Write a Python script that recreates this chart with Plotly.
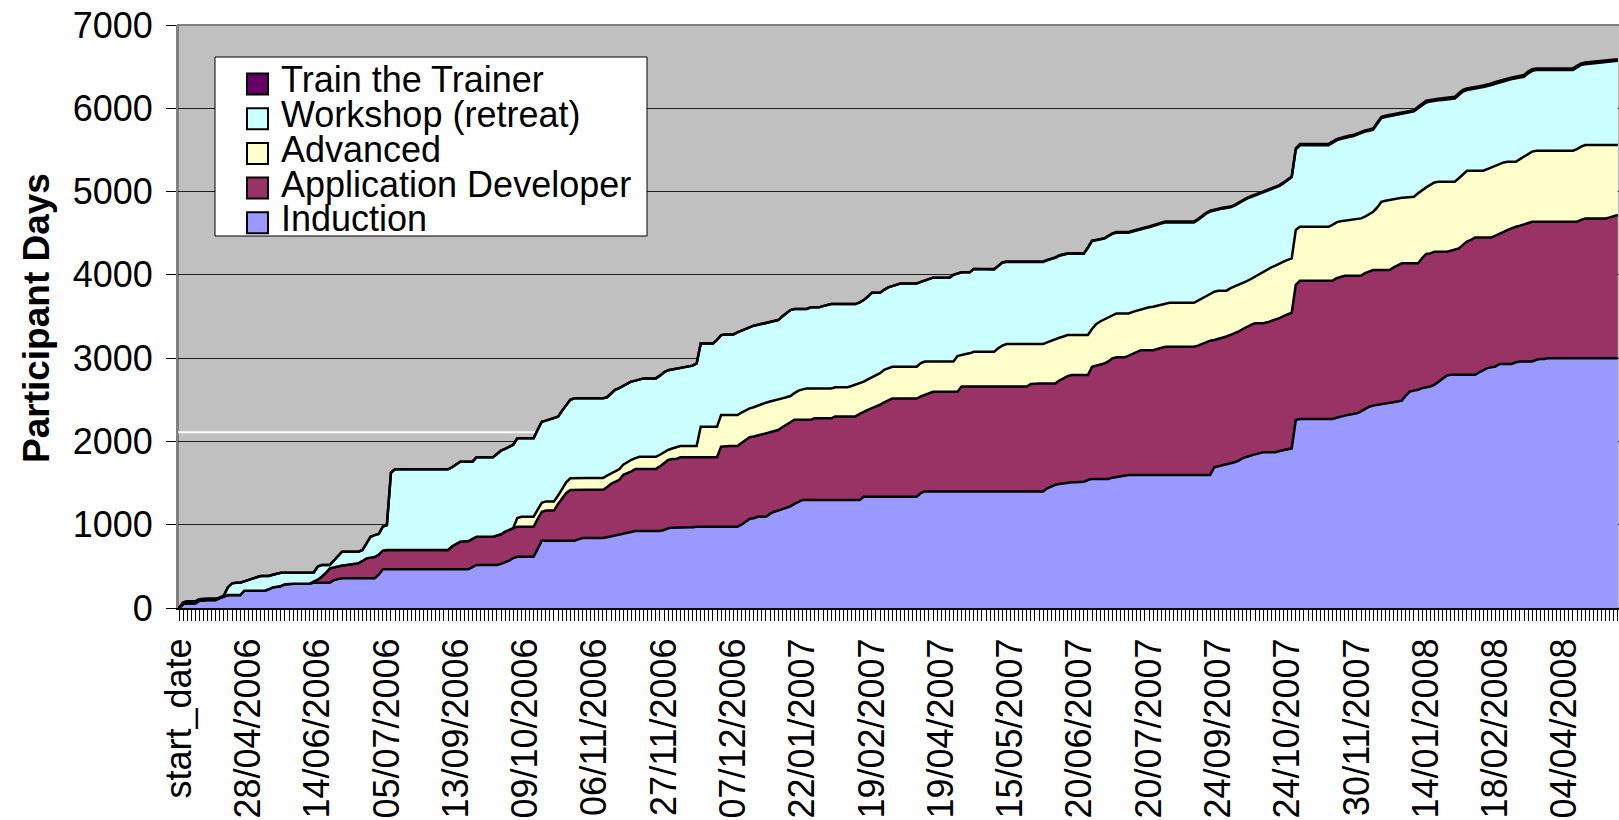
import plotly.graph_objects as go

# ---------------- data ----------------
x_labels = ["start_date", "28/04/2006", "14/06/2006", "05/07/2006", "13/09/2006",
            "09/10/2006", "06/11/2006", "27/11/2006", "07/12/2006", "22/01/2007",
            "19/02/2007", "19/04/2007", "15/05/2007", "20/06/2007", "20/07/2007",
            "24/09/2007", "24/10/2007", "30/11/2007", "14/01/2008", "18/02/2008",
            "04/04/2008"]
label_every = 17

induction = [
    0, 48, 56, 56, 56, 88, 96, 96, 96, 96,
    120, 140, 156, 156, 156, 156, 208, 208, 208, 208,
    208, 208, 225, 248, 256, 264, 285, 290, 290, 290,
    290, 290, 290, 304, 304, 304, 304, 304, 335, 350,
    356, 356, 356, 356, 356, 356, 356, 356, 356, 400,
    464, 464, 464, 464, 464, 464, 464, 464, 464, 464,
    464, 464, 464, 464, 464, 464, 464, 464, 464, 464,
    464, 464, 490, 516, 516, 516, 516, 516, 516, 530,
    550, 568, 600, 616, 616, 616, 616, 616, 710, 808,
    808, 808, 808, 808, 808, 808, 808, 808, 824, 840,
    840, 840, 840, 840, 840, 850, 860, 870, 880, 895,
    905, 915, 925, 925, 925, 925, 925, 925, 925, 936,
    957, 965, 965, 965, 965, 965, 970, 976, 976, 976,
    976, 976, 976, 976, 976, 976, 976, 976, 1000, 1040,
    1070, 1077, 1096, 1096, 1096, 1130, 1156, 1170, 1185, 1197,
    1220, 1250, 1275, 1297, 1297, 1297, 1297, 1297, 1297, 1297,
    1297, 1297, 1297, 1297, 1297, 1297, 1297, 1297, 1336, 1336,
    1336, 1336, 1336, 1336, 1336, 1336, 1336, 1336, 1336, 1336,
    1336, 1336, 1380, 1400, 1400, 1400, 1400, 1400, 1400, 1400,
    1400, 1400, 1400, 1400, 1400, 1400, 1400, 1400, 1400, 1400,
    1400, 1400, 1400, 1400, 1400, 1400, 1400, 1400, 1400, 1400,
    1400, 1400, 1400, 1437, 1460, 1480, 1490, 1497, 1510, 1510,
    1510, 1510, 1516, 1537, 1550, 1550, 1550, 1550, 1550, 1565,
    1575, 1585, 1595, 1597, 1597, 1597, 1597, 1597, 1597, 1597,
    1597, 1597, 1597, 1597, 1597, 1597, 1597, 1597, 1597, 1597,
    1597, 1597, 1597, 1597, 1690, 1700, 1710, 1720, 1737, 1750,
    1770, 1800, 1817, 1830, 1845, 1857, 1870, 1870, 1870, 1870,
    1885, 1895, 1905, 1917, 2257, 2270, 2270, 2270, 2270, 2270,
    2270, 2270, 2270, 2270, 2285, 2300, 2310, 2320, 2330, 2337,
    2360, 2390, 2417, 2430, 2440, 2450, 2460, 2465, 2470, 2477,
    2490, 2550, 2600, 2610, 2620, 2640, 2650, 2660, 2680, 2720,
    2760, 2790, 2800, 2800, 2800, 2800, 2800, 2800, 2800, 2830,
    2860, 2880, 2890, 2900, 2930, 2930, 2930, 2930, 2950, 2960,
    2960, 2960, 2960, 2980, 2990, 2990, 3000, 3000, 3000, 3000,
    3000, 3000, 3000, 3000, 3000, 3000, 3000, 3000, 3000, 3000,
    3000, 3000, 3000, 3000,
]

app_developer = [
    0, 0, 0, 0, 0, 0, 0, 0, 0, 0,
    0, 0, 0, 0, 0, 0, 0, 0, 0, 0,
    0, 0, 0, 0, 0, 0, 0, 0, 0, 0,
    0, 0, 0, 12, 36, 72, 116, 172, 155, 155,
    154, 159, 164, 172, 180, 209, 240, 249, 256, 240,
    224, 232, 232, 232, 232, 232, 232, 232, 232, 232,
    232, 232, 232, 232, 232, 232, 232, 276, 306, 332,
    336, 340, 340, 340, 340, 340, 340, 340, 354, 355,
    366, 367, 360, 360, 360, 360, 360, 360, 360, 348,
    362, 362, 362, 442, 512, 572, 609, 612, 596, 580,
    580, 580, 580, 580, 580, 600, 630, 645, 657, 705,
    715, 725, 745, 745, 745, 745, 745, 745, 775, 804,
    820, 825, 825, 845, 845, 845, 840, 834, 834, 834,
    834, 834, 834, 960, 969, 969, 969, 969, 980, 980,
    980, 983, 979, 994, 1001, 980, 969, 967, 985, 1003,
    1017, 1010, 985, 963, 963, 963, 980, 980, 980, 980,
    980, 1003, 1003, 1003, 1003, 1003, 1003, 1033, 1024, 1044,
    1064, 1081, 1104, 1134, 1161, 1179, 1179, 1179, 1179, 1179,
    1179, 1179, 1160, 1160, 1177, 1197, 1197, 1197, 1197, 1197,
    1197, 1197, 1260, 1260, 1260, 1260, 1260, 1260, 1260, 1260,
    1260, 1260, 1260, 1260, 1260, 1260, 1260, 1260, 1260, 1290,
    1297, 1297, 1297, 1260, 1237, 1217, 1240, 1263, 1275, 1287,
    1287, 1287, 1281, 1260, 1347, 1360, 1370, 1385, 1410, 1433,
    1435, 1425, 1415, 1433, 1458, 1480, 1498, 1498, 1498, 1498,
    1513, 1528, 1540, 1540, 1540, 1540, 1540, 1540, 1540, 1540,
    1553, 1573, 1593, 1613, 1527, 1530, 1535, 1540, 1543, 1550,
    1550, 1550, 1563, 1570, 1575, 1563, 1550, 1560, 1575, 1587,
    1595, 1610, 1625, 1628, 1623, 1659, 1659, 1659, 1659, 1659,
    1659, 1659, 1659, 1659, 1675, 1677, 1680, 1670, 1660, 1653,
    1630, 1630, 1623, 1628, 1618, 1608, 1598, 1593, 1620, 1638,
    1648, 1588, 1538, 1528, 1518, 1560, 1600, 1598, 1598, 1558,
    1518, 1488, 1490, 1505, 1518, 1560, 1600, 1620, 1650, 1620,
    1590, 1570, 1560, 1570, 1560, 1585, 1610, 1630, 1627, 1630,
    1645, 1660, 1678, 1658, 1648, 1648, 1638, 1638, 1638, 1638,
    1638, 1638, 1638, 1638, 1660, 1678, 1678, 1678, 1678, 1678,
    1678, 1690, 1705, 1718,
]

advanced = [
    0, 0, 0, 0, 0, 0, 0, 0, 0, 0,
    0, 0, 0, 0, 0, 0, 0, 0, 0, 0,
    0, 0, 0, 0, 0, 0, 0, 0, 0, 0,
    0, 0, 0, 0, 0, 0, 0, 0, 0, 0,
    0, 0, 0, 0, 0, 0, 0, 0, 0, 0,
    0, 0, 0, 0, 0, 0, 0, 0, 0, 0,
    0, 0, 0, 0, 0, 0, 0, 0, 0, 0,
    0, 0, 0, 0, 0, 0, 0, 0, 0, 0,
    0, 0, 0, 104, 120, 120, 120, 120, 110, 108,
    110, 110, 110, 100, 110, 130, 140, 140, 140, 140,
    140, 140, 140, 140, 140, 140, 127, 125, 128, 120,
    135, 140, 130, 146, 146, 146, 146, 146, 140, 130,
    120, 125, 140, 135, 135, 135, 135, 135, 367, 367,
    367, 367, 367, 381, 372, 372, 372, 372, 365, 350,
    347, 350, 355, 360, 368, 370, 370, 368, 347, 330,
    308, 320, 350, 365, 377, 377, 360, 360, 360, 360,
    360, 350, 350, 350, 350, 365, 380, 370, 357, 365,
    370, 368, 380, 390, 380, 382, 382, 382, 382, 382,
    382, 382, 400, 400, 383, 363, 363, 363, 363, 363,
    363, 428, 380, 390, 398, 417, 417, 417, 417, 417,
    417, 460, 490, 509, 509, 509, 509, 509, 509, 479,
    472, 472, 472, 493, 513, 533, 515, 500, 492, 480,
    480, 480, 480, 480, 453, 499, 520, 530, 530, 511,
    527, 527, 527, 507, 500, 493, 490, 505, 515, 522,
    520, 515, 512, 528, 528, 528, 528, 528, 528, 528,
    540, 550, 560, 560, 580, 580, 565, 550, 560, 560,
    560, 548, 545, 550, 560, 590, 620, 635, 645, 653,
    658, 655, 650, 653, 660, 648, 648, 648, 648, 648,
    648, 648, 648, 671, 670, 668, 660, 670, 675, 680,
    688, 680, 690, 700, 752, 820, 832, 842, 820, 805,
    787, 792, 797, 800, 842, 820, 800, 822, 832, 840,
    840, 840, 828, 813, 842, 850, 850, 830, 800, 800,
    800, 820, 840, 840, 845, 835, 818, 798, 781, 800,
    815, 830, 842, 852, 852, 852, 852, 852, 852, 852,
    852, 852, 852, 872, 880, 880, 880, 880, 880, 880,
    880, 868, 853, 840,
]

workshop = [
    0, 16, 24, 24, 24, 16, 16, 16, 16, 16,
    5, 10, 94, 140, 148, 148, 112, 128, 142, 160,
    176, 176, 159, 152, 154, 160, 139, 134, 134, 134,
    134, 134, 134, 108, 156, 140, 96, 40, 80, 125,
    166, 161, 156, 148, 140, 131, 184, 251, 263, 248,
    288, 300, 929, 969, 969, 969, 969, 969, 969, 969,
    969, 969, 969, 969, 969, 969, 969, 950, 950, 961,
    957, 953, 927, 953, 953, 953, 953, 953, 980, 1004,
    994, 1000, 1000, 957, 941, 941, 941, 941, 960, 973,
    970, 985, 1000, 947, 940, 930, 943, 957, 957, 957,
    957, 957, 957, 957, 957, 940, 953, 980, 975, 950,
    945, 940, 930, 929, 941, 941, 941, 941, 950, 960,
    958, 950, 945, 935, 945, 952, 965, 992, 1000, 1000,
    1000, 1000, 1043, 960, 968, 968, 968, 993, 985, 980,
    973, 980, 970, 960, 955, 950, 950, 952, 983, 1010,
    1032, 1010, 980, 965, 953, 973, 973, 973, 988, 1003,
    1012, 999, 999, 999, 999, 984, 969, 970, 980, 995,
    1015, 1000, 965, 960, 973, 968, 983, 1000, 1000, 1000,
    1000, 1000, 975, 975, 990, 1006, 1006, 1006, 1006, 1006,
    1040, 993, 990, 980, 972, 993, 993, 993, 993, 993,
    988, 985, 995, 986, 986, 986, 986, 986, 986, 986,
    986, 986, 986, 985, 980, 975, 985, 985, 976, 976,
    976, 976, 976, 1048, 1055, 1006, 985, 970, 975, 984,
    968, 968, 968, 968, 965, 965, 965, 960, 960, 971,
    970, 975, 981, 965, 965, 965, 965, 965, 965, 965,
    970, 980, 985, 990, 978, 975, 985, 995, 970, 970,
    980, 992, 990, 985, 975, 958, 950, 945, 940, 940,
    930, 940, 960, 972, 965, 978, 978, 978, 978, 978,
    978, 978, 978, 985, 985, 985, 995, 995, 998, 1015,
    1027, 1020, 1000, 985, 1005, 1005, 1005, 1005, 1010, 1010,
    1015, 1020, 1020, 1025, 1020, 1020, 1020, 1000, 980, 977,
    982, 987, 992, 1000, 1000, 990, 969, 975, 985, 995,
    1005, 995, 989, 985, 975, 977, 982, 992, 1002, 980,
    959, 970, 970, 969, 969, 969, 969, 969, 969, 969,
    969, 969, 969, 980, 980, 972, 977, 982, 987, 992,
    997, 1002, 1007, 1012,
]

train_the_trainer = [
    0, 0, 0, 0, 0, 0, 0, 0, 0, 0,
    0, 0, 0, 0, 0, 0, 0, 0, 0, 0,
    0, 0, 0, 0, 0, 0, 0, 0, 0, 0,
    0, 0, 0, 0, 0, 0, 0, 0, 0, 0,
    0, 0, 0, 0, 0, 0, 0, 0, 0, 0,
    0, 0, 0, 0, 0, 0, 0, 0, 0, 0,
    0, 0, 0, 0, 0, 0, 0, 0, 0, 0,
    0, 0, 0, 0, 0, 0, 0, 0, 0, 0,
    0, 0, 0, 0, 0, 0, 0, 0, 0, 0,
    0, 0, 0, 0, 0, 0, 0, 0, 0, 0,
    0, 0, 0, 0, 0, 0, 0, 0, 0, 0,
    0, 0, 0, 0, 0, 0, 0, 0, 0, 0,
    0, 0, 0, 0, 0, 0, 0, 0, 0, 0,
    0, 0, 0, 0, 0, 0, 0, 0, 0, 0,
    0, 0, 0, 0, 0, 0, 0, 0, 0, 0,
    0, 0, 0, 0, 0, 0, 0, 0, 0, 0,
    0, 0, 0, 0, 0, 0, 0, 0, 0, 0,
    0, 0, 0, 0, 0, 0, 0, 0, 0, 0,
    0, 0, 0, 0, 0, 0, 0, 0, 0, 0,
    0, 0, 0, 0, 0, 0, 0, 0, 0, 0,
    5, 5, 5, 5, 5, 5, 5, 5, 5, 5,
    5, 5, 5, 5, 5, 5, 5, 5, 5, 5,
    5, 5, 5, 5, 5, 5, 5, 5, 5, 5,
    10, 10, 10, 10, 10, 10, 10, 10, 10, 10,
    10, 10, 10, 10, 10, 10, 10, 10, 10, 10,
    10, 10, 10, 10, 10, 10, 10, 10, 10, 10,
    10, 10, 10, 10, 10, 10, 10, 10, 10, 10,
    10, 10, 10, 10, 15, 15, 15, 15, 15, 15,
    15, 15, 15, 15, 15, 15, 15, 15, 15, 15,
    15, 15, 15, 15, 15, 15, 15, 15, 15, 15,
    15, 15, 15, 15, 20, 20, 20, 20, 20, 20,
    20, 20, 20, 20, 20, 20, 20, 20, 20, 20,
    20, 20, 20, 20, 20, 20, 20, 20, 20, 20,
    20, 20, 20, 20, 20, 20, 20, 20, 20, 20,
    20, 20, 20, 20, 20, 20, 20, 20, 20, 20,
    20, 20, 20, 20,
]

series_names = ["Induction", "Application Developer", "Advanced",
                "Workshop (retreat)", "Train the Trainer"]
series_values = [induction, app_developer, advanced, workshop, train_the_trainer]

for s in series_values:
    assert len(s) == len(induction), len(s)

# ---------------- style ----------------
colors = ["#9999FF", "#993366", "#FFFFCC", "#CCFFFF", "#660066"]
FONT = "Liberation Sans, Arial, Helvetica, sans-serif"
W, H = 1619, 820
ML, MT = 178, 25
PLOT_BOTTOM = 608
MB = H - PLOT_BOTTOM
PW, PH = W - ML, PLOT_BOTTOM - MT

x_idx = list(range(len(induction)))

fig = go.Figure()
for name, vals, col in zip(series_names, series_values, colors):
    fig.add_trace(go.Scatter(
        x=x_idx, y=vals, name=name, mode="lines", stackgroup="one",
        line=dict(color="black", width=2.5), fillcolor=col,
        showlegend=False, hoverinfo="skip"))


def px_x(px):
    """window pixel x -> paper x"""
    return (px - ML) / PW


def px_y(py):
    """window pixel y -> paper y"""
    return (PLOT_BOTTOM - py) / PH


shapes = []
annotations = []

# plot-area border (grey)
shapes.append(dict(type="rect", xref="paper", yref="paper", x0=0, x1=1.01, y0=0, y1=1,
                   line=dict(color="#808080", width=2), layer="below"))
# faint white artifact line behind the areas
shapes.append(dict(type="line", xref="x", yref="y", x0=-0.25, x1=100, y0=2110, y1=2110,
                   line=dict(color="white", width=2), layer="below"))

# manual legend
shapes.append(dict(type="rect", xref="paper", yref="paper",
                   x0=px_x(215), x1=px_x(647), y0=px_y(236), y1=px_y(57),
                   line=dict(color="black", width=1), fillcolor="white", layer="above"))
legend_order = list(range(len(series_names)))[::-1]
for row, k in enumerate(legend_order):
    cy = 84 + row * 34.7
    shapes.append(dict(type="rect", xref="paper", yref="paper",
                       x0=px_x(247), x1=px_x(268), y0=px_y(cy + 10.5), y1=px_y(cy - 10.5),
                       line=dict(color="black", width=2), fillcolor=colors[k], layer="above"))
    annotations.append(dict(xref="paper", yref="paper", x=px_x(279), y=px_y(cy - 4),
                            text=series_names[k], showarrow=False, xanchor="left",
                            yanchor="middle", font=dict(family=FONT, size=36, color="black")))

# y-axis title
annotations.append(dict(xref="paper", yref="paper", x=px_x(36), y=px_y(318),
                        text="<b>Participant Days</b>", textangle=-90, showarrow=False,
                        xanchor="center", yanchor="middle",
                        font=dict(family=FONT, size=37, color="black")))

fig.update_layout(
    width=W, height=H,
    margin=dict(l=ML, r=0, t=MT, b=MB, autoexpand=False),
    paper_bgcolor="white", plot_bgcolor="#C0C0C0",
    font=dict(family=FONT, size=36, color="black"),
    shapes=shapes, annotations=annotations, showlegend=False,
)

fig.update_xaxes(
    range=[-0.25, 353.3], tickmode="array",
    tickvals=[i * label_every for i in range(len(x_labels))], ticktext=x_labels,
    tickangle=-90, tickfont=dict(family=FONT, size=36, color="black"),
    ticks="outside", ticklen=11, tickwidth=1, tickcolor="black",
    ticklabelstandoff=3, ticklabeloverflow="allow",
    minor=dict(tickmode="linear", tick0=0, dtick=1, ticks="outside", ticklen=11,
               tickwidth=1, tickcolor="black", showgrid=False),
    showgrid=False, zeroline=False, showline=True, linecolor="black", linewidth=2,
    automargin=False,
)
fig.update_yaxes(
    range=[0, 7000], dtick=1000, tick0=0, tickformat="d",
    tickfont=dict(family=FONT, size=36, color="black"),
    ticks="outside", ticklen=10, tickwidth=1, tickcolor="black",
    ticklabelstandoff=6, ticklabeloverflow="allow",
    showgrid=True, gridcolor="#202020", gridwidth=1,
    zeroline=False, showline=True, linecolor="#808080", linewidth=2,
    automargin=False,
)

# remove the default 8px page margin so the figure fills the window exactly
fig.write_html("out.html",
               config={"displayModeBar": False, "staticPlot": True},
               post_script="document.body.style.margin='0px';"
                           "document.body.style.overflow='hidden';")
